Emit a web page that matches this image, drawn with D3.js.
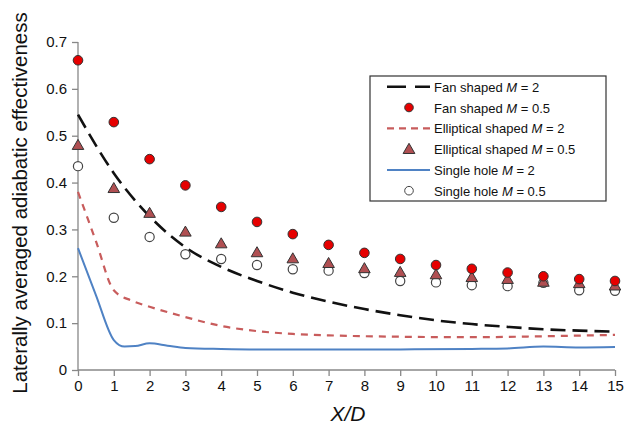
<!DOCTYPE html>
<html lang="en">
<head>
  <meta charset="UTF-8">
  <title>Laterally averaged adiabatic effectiveness</title>
  <script src="https://cdn.jsdelivr.net/npm/d3@7"></script>
  <style>
    body {
      margin: 0;
      background: #fff;
      font-family: "Liberation Sans", Arial, sans-serif;
    }
    svg text {
      fill: #111;
    }
  </style>
</head>
<body>
<svg id="chart" width="626" height="424"></svg>
<script>
  // markers at integer X/D
  const xs = d3.range(0, 16);
  const fanLow = [0.661, 0.529, 0.45, 0.394, 0.348, 0.316, 0.29, 0.267, 0.25, 0.237, 0.224, 0.216, 0.208, 0.2, 0.194, 0.19];
  const ellLow = [0.48, 0.388, 0.335, 0.295, 0.27, 0.251, 0.238, 0.228, 0.217, 0.209, 0.204, 0.198, 0.194, 0.188, 0.185, 0.18];
  const singleLow = [0.435, 0.325, 0.284, 0.247, 0.237, 0.224, 0.215, 0.212, 0.207, 0.19, 0.187, 0.181, 0.179, 0.186, 0.17, 0.169];

  // curves (X/D, value)
  const fanHighX = [0, 1, 2, 3, 4, 5, 6, 7, 8, 9, 10, 11, 12, 13, 14, 15];
  const fanHigh = [0.545, 0.42, 0.328, 0.262, 0.22, 0.19, 0.165, 0.146, 0.13, 0.117, 0.106, 0.098, 0.092, 0.087, 0.084, 0.082];
  const ellHighX = [0, 0.5, 1, 1.5, 2, 3, 4, 5, 6, 7, 9, 11, 13, 15];
  const ellHigh = [0.38, 0.275, 0.17, 0.148, 0.135, 0.113, 0.094, 0.083, 0.077, 0.074, 0.071, 0.07, 0.072, 0.075];
  const singleHighX = [0, 0.5, 1, 1.3, 1.6, 2, 2.5, 3, 4, 5, 7, 9, 11, 12, 13, 14, 15];
  const singleHigh = [0.26, 0.16, 0.064, 0.05, 0.051, 0.057, 0.052, 0.047, 0.045, 0.044, 0.044, 0.044, 0.045, 0.046, 0.05, 0.048, 0.049];

  const yTicks = [0, 0.1, 0.2, 0.3, 0.4, 0.5, 0.6, 0.7];

  const svg = d3.select("#chart");
  const margin = {left: 78, right: 11, top: 42, bottom: 54};
  const width = 626, height = 424;

  const x = d3.scaleLinear().domain([0, 15]).range([margin.left, width - margin.right]);
  const y = d3.scaleLinear().domain([0, 0.7]).range([height - margin.bottom, margin.top]);

  // axes
  const xAxis = svg.append("g")
      .attr("transform", `translate(0,${y(0)})`)
      .call(d3.axisBottom(x).tickValues(xs).tickSize(6).tickPadding(4).tickFormat(d3.format("d")));
  const yAxis = svg.append("g")
      .attr("transform", `translate(${x(0)},0)`)
      .call(d3.axisLeft(y).tickValues(yTicks).tickSize(6).tickPadding(5)
          .tickFormat(d => d === 0 ? "0" : d3.format(".1f")(d)));
  [xAxis, yAxis].forEach(g => {
    g.selectAll("path, line").attr("stroke", "#888").attr("stroke-width", 1.3);
    g.select(".domain").attr("d", g === xAxis
        ? `M${x(0)},0H${x(15)}`
        : `M0,${y(0)}V${y(0.7)}`);
    g.selectAll("text").attr("font-size", 15).attr("fill", "#111")
        .attr("font-family", "Liberation Sans, Arial, sans-serif");
  });

  // axis labels
  svg.append("text")
      .attr("transform", `translate(27,203) rotate(-90)`)
      .attr("text-anchor", "middle")
      .attr("font-size", 20.5)
      .text("Laterally averaged adiabatic effectiveness");
  svg.append("text")
      .attr("x", 348)
      .attr("y", 421)
      .attr("text-anchor", "middle")
      .attr("font-size", 21)
      .attr("font-style", "italic")
      .text("X/D");

  const line = d3.line().x(d => x(d[0])).y(d => y(d[1])).curve(d3.curveMonotoneX);

  const curves = [
    {xv: singleHighX, yv: singleHigh, color: "#4f82c4", w: 2, dash: null},
    {xv: ellHighX, yv: ellHigh, color: "#c85c5c", w: 2.2, dash: "7,6"},
    {xv: fanHighX, yv: fanHigh, color: "#111", w: 2.6, dash: "15,7"}
  ];
  curves.forEach(c => {
    svg.append("path")
        .datum(d3.zip(c.xv, c.yv))
        .attr("d", line)
        .attr("fill", "none")
        .attr("stroke", c.color)
        .attr("stroke-width", c.w)
        .attr("stroke-dasharray", c.dash);
  });

  const tri = d3.symbol().type(d3.symbolTriangle).size(58);

  svg.append("g").selectAll("circle")
      .data(d3.zip(xs, singleLow))
      .join("circle")
      .attr("cx", d => x(d[0])).attr("cy", d => y(d[1])).attr("r", 4.6)
      .attr("fill", "#fff").attr("stroke", "#444").attr("stroke-width", 1.2);

  svg.append("g").selectAll("path")
      .data(d3.zip(xs, ellLow))
      .join("path")
      .attr("d", tri)
      .attr("transform", d => `translate(${x(d[0])},${y(d[1]) + 1})`)
      .attr("fill", "#b04f52").attr("stroke", "#333").attr("stroke-width", 1);

  svg.append("g").selectAll("circle")
      .data(d3.zip(xs, fanLow))
      .join("circle")
      .attr("cx", d => x(d[0])).attr("cy", d => y(d[1])).attr("r", 4.8)
      .attr("fill", "#e60000").attr("stroke", "#333").attr("stroke-width", 1);

  // legend
  const legend = svg.append("g").attr("transform", "translate(370,76)");
  legend.append("rect")
      .attr("width", 236).attr("height", 125)
      .attr("fill", "#fff").attr("stroke", "#333").attr("stroke-width", 1.2);

  const items = [
    {name: "Fan shaped ", m: "2", kind: "line", color: "#111", w: 2.6, dash: "19,9"},
    {name: "Fan shaped ", m: "0.5", kind: "dot", fill: "#e60000", stroke: "#333"},
    {name: "Elliptical shaped ", m: "2", kind: "line", color: "#c85c5c", w: 2.2, dash: "7,5"},
    {name: "Elliptical shaped ", m: "0.5", kind: "tri", fill: "#b04f52", stroke: "#333"},
    {name: "Single hole ", m: "2", kind: "line", color: "#4f82c4", w: 2, dash: null},
    {name: "Single hole ", m: "0.5", kind: "dot", fill: "#fff", stroke: "#444"}
  ];
  items.forEach((it, i) => {
    const cy = 10.7 + i * 20.8;
    const g = legend.append("g").attr("transform", `translate(0,${cy})`);
    if (it.kind === "line") {
      g.append("line").attr("x1", 17).attr("x2", 60).attr("y1", 0).attr("y2", 0)
          .attr("stroke", it.color).attr("stroke-width", it.w)
          .attr("stroke-dasharray", it.dash);
    } else if (it.kind === "dot") {
      g.append("circle").attr("cx", 39).attr("cy", 0).attr("r", 4.3)
          .attr("fill", it.fill).attr("stroke", it.stroke).attr("stroke-width", 1);
    } else {
      g.append("path").attr("d", d3.symbol().type(d3.symbolTriangle).size(60))
          .attr("transform", "translate(39,1)")
          .attr("fill", it.fill).attr("stroke", it.stroke).attr("stroke-width", 1);
    }
    const t = g.append("text").attr("x", 64).attr("y", 5).attr("font-size", 13);
    t.append("tspan").text(it.name);
    t.append("tspan").attr("font-style", "italic").text("M");
    t.append("tspan").text(" = " + it.m);
  });
</script>
</body>
</html>
